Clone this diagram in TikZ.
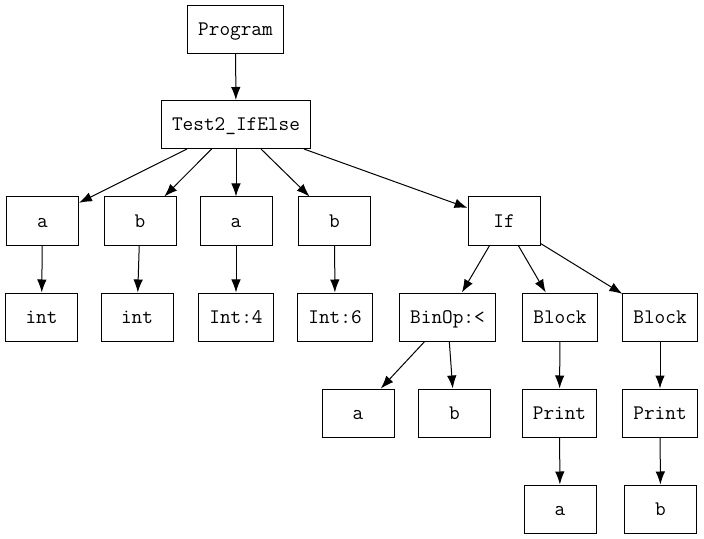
\documentclass[tikz,border=0pt]{standalone}
\usepackage{fontspec}
\usetikzlibrary{arrows.meta}
\tikzset{
    ast/.style={draw, line width=1bp, minimum width=72bp, minimum height=48bp,
        inner xsep=10.5bp, text height=15bp, text depth=2bp,
        font=\ttfamily\fontsize{20.7bp}{22bp}\selectfont},
}
\begin{document}
\begin{tikzpicture}[x=1bp, y=-1bp, line width=1bp, >={Latex[length=13bp, width=9.5bp]}]
    \useasboundingbox (0, 0) rectangle (704, 539);
    % top
    \node[ast] (prog) at (235.5, 29.5) {Program};
    \node[ast] (test) at (236, 124.5) {Test2\_IfElse};
    % declarations and assignments
    \node[ast] (da) at (42.5, 221) {a};
    \node[ast] (db) at (140, 221) {b};
    \node[ast] (sa) at (236, 221) {a};
    \node[ast] (sb) at (334.5, 221) {b};
    \node[ast] (if) at (504, 221) {If};
    \node[ast] (ta) at (41.5, 317) {int};
    \node[ast] (tb) at (137, 317) {int};
    \node[ast] (va) at (236, 317) {Int:4};
    \node[ast] (vb) at (335, 317) {Int:6};
    % if else
    \node[ast] (cond) at (447.5, 317) {BinOp:<};
    \node[ast] (then) at (560, 317) {Block};
    \node[ast] (else) at (660, 317) {Block};
    \node[ast] (ca) at (358, 413) {a};
    \node[ast] (cb) at (454.5, 413) {b};
    \node[ast] (pa) at (559.5, 413) {Print};
    \node[ast] (pb) at (660, 413) {Print};
    \node[ast] (oa) at (560, 509) {a};
    \node[ast] (ob) at (660.5, 509) {b};
    \draw[->] (prog)--(test);
    \draw[->] (test)--(da);
    \draw[->] (test)--(db);
    \draw[->] (test)--(sa);
    \draw[->] (test)--(sb);
    \draw[->] (test)--(if);
    \draw[->] (da)--(ta);
    \draw[->] (db)--(tb);
    \draw[->] (sa)--(va);
    \draw[->] (sb)--(vb);
    \draw[->] (if)--(cond);
    \draw[->] (if)--(then);
    \draw[->] (if)--(else);
    \draw[->] (cond)--(ca);
    \draw[->] (cond)--(cb);
    \draw[->] (then)--(pa);
    \draw[->] (else)--(pb);
    \draw[->] (pa)--(oa);
    \draw[->] (pb)--(ob);
\end{tikzpicture}
\end{document}
